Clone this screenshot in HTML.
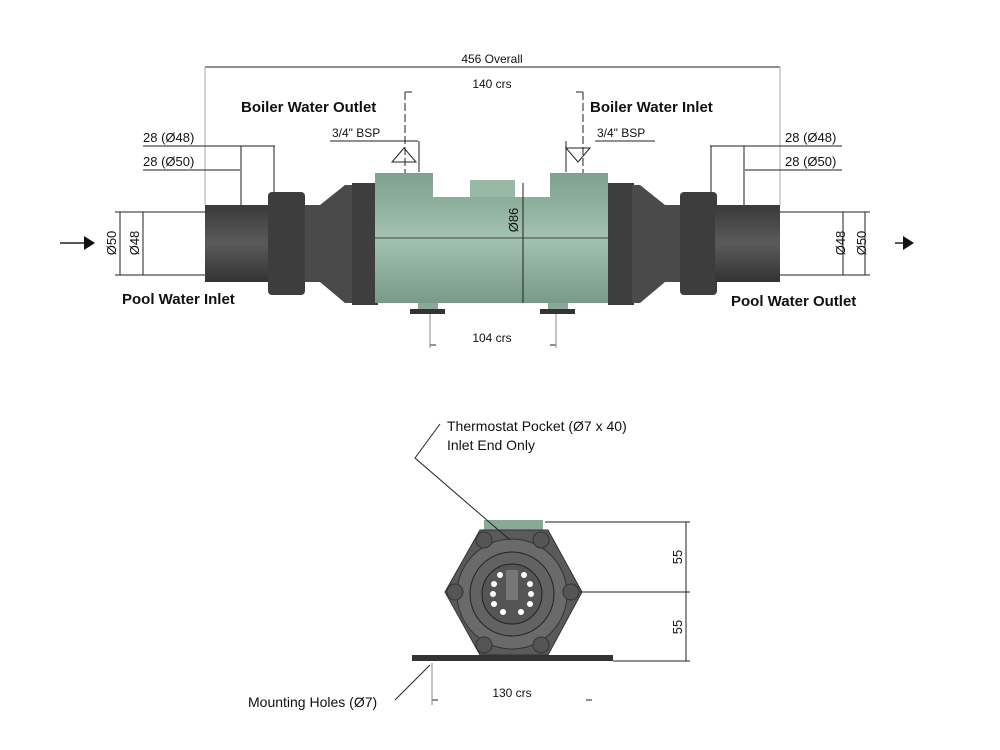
<!DOCTYPE html>
<html><head><meta charset="utf-8"><style>
html,body{margin:0;padding:0;background:#fff;}
svg{display:block;}
text{font-family:"Liberation Sans",sans-serif;fill:#111;}
.b{font-weight:bold;font-size:15px;}
.s{font-size:12px;}
.d{font-size:13px;}
</style></head><body>
<svg width="1000" height="750" viewBox="0 0 1000 750" xmlns="http://www.w3.org/2000/svg">
<defs>
<linearGradient id="g" x1="0" y1="0" x2="0" y2="1"><stop offset="0" stop-color="#7fa08e"/><stop offset="0.5" stop-color="#a3c2b0"/><stop offset="1" stop-color="#7a9a88"/></linearGradient>
<linearGradient id="k" x1="0" y1="0" x2="0" y2="1"><stop offset="0" stop-color="#3a3a3a"/><stop offset="0.5" stop-color="#5a5a5a"/><stop offset="1" stop-color="#333"/></linearGradient>
</defs>
<g stroke="#222" stroke-width="1" fill="none">
<!-- overall -->
<line x1="205" y1="67" x2="780" y2="67"/>
<line x1="205" y1="67" x2="205" y2="205" stroke="#aaa"/>
<line x1="780" y1="67" x2="780" y2="205" stroke="#aaa"/>
<!-- 140 crs -->
<line x1="405" y1="92" x2="583" y2="92" stroke="#fff"/>
<line x1="405" y1="92" x2="412" y2="92"/><line x1="576" y1="92" x2="583" y2="92"/>
<line x1="405" y1="92" x2="405" y2="300" stroke-dasharray="8,3"/>
<line x1="583" y1="92" x2="583" y2="300" stroke-dasharray="8,3"/>
<!-- BSP -->
<line x1="330" y1="141" x2="418" y2="141"/><line x1="419" y1="141" x2="419" y2="172"/>
<path d="M404,148 L392,162 L416,162 Z"/>
<line x1="595" y1="141" x2="655" y2="141"/><line x1="566" y1="141" x2="566" y2="172"/>
<path d="M566,148 L590,148 L578,162 Z"/>
<!-- left 28s -->
<line x1="143" y1="146" x2="275" y2="146"/><line x1="241" y1="146" x2="241" y2="205"/><line x1="274" y1="146" x2="274" y2="195"/>
<line x1="143" y1="170" x2="240" y2="170"/>
<line x1="710" y1="146" x2="842" y2="146"/><line x1="744" y1="146" x2="744" y2="205"/><line x1="711" y1="146" x2="711" y2="195"/>
<line x1="745" y1="170" x2="842" y2="170"/>
<!-- diameters left -->
<line x1="115" y1="212" x2="205" y2="212"/><line x1="115" y1="275" x2="205" y2="275"/>
<line x1="120" y1="212" x2="120" y2="275"/><line x1="143" y1="212" x2="143" y2="275"/>
<line x1="780" y1="212" x2="870" y2="212"/><line x1="780" y1="275" x2="870" y2="275"/>
<line x1="865" y1="212" x2="865" y2="275"/><line x1="843" y1="212" x2="843" y2="275"/>
<!-- arrows -->
<line x1="60" y1="243" x2="86" y2="243" stroke-width="1.5"/>
<line x1="895" y1="243" x2="905" y2="243" stroke-width="1.5"/>
<!-- 104 crs -->
<line x1="430" y1="345" x2="436" y2="345"/><line x1="550" y1="345" x2="556" y2="345"/>
<line x1="430" y1="312" x2="430" y2="348" stroke="#888"/><line x1="556" y1="312" x2="556" y2="348" stroke="#888"/>
</g>
<path d="M84,236 L95,243 L84,250 Z" fill="#111"/>
<path d="M903,236 L914,243 L903,250 Z" fill="#111"/>
<!-- top view body -->
<rect x="205" y="205" width="65" height="77" fill="url(#k)"/>
<rect x="268" y="192" width="37" height="103" rx="4" fill="#3d3d3d"/>
<path d="M305,205 L320,205 L345,185 L355,185 L355,303 L345,303 L320,282 L305,282 Z" fill="#4a4a4a"/>
<rect x="352" y="183" width="26" height="122" fill="#3e3e3e"/>
<rect x="375" y="173" width="233" height="130" fill="url(#g)"/>
<rect x="433" y="173" width="117" height="24" fill="#fff"/>
<rect x="470" y="180" width="45" height="17" fill="#9ab8a6"/>
<rect x="418" y="303" width="20" height="10" fill="#8aa896"/><rect x="410" y="309" width="35" height="5" fill="#333"/>
<rect x="548" y="303" width="20" height="10" fill="#8aa896"/><rect x="540" y="309" width="35" height="5" fill="#333"/>
<line x1="375" y1="238" x2="608" y2="238" stroke="#444" stroke-width="1"/>
<rect x="608" y="183" width="26" height="122" fill="#3e3e3e"/>
<path d="M680,205 L665,205 L640,185 L632,185 L632,303 L640,303 L665,282 L680,282 Z" fill="#4a4a4a"/>
<rect x="680" y="192" width="37" height="103" rx="4" fill="#3d3d3d"/>
<rect x="715" y="205" width="65" height="77" fill="url(#k)"/>
<line x1="523" y1="183" x2="523" y2="303" stroke="#222"/>
<!-- top labels -->
<text x="492" y="63" class="s" text-anchor="middle">456 Overall</text>
<text x="492" y="88" class="s" text-anchor="middle">140 crs</text>
<text x="241" y="112" class="b">Boiler Water Outlet</text>
<text x="590" y="112" class="b">Boiler Water Inlet</text>
<text x="332" y="137" class="s">3/4" BSP</text>
<text x="597" y="137" class="s">3/4" BSP</text>
<text x="143" y="142" class="d">28 (Ø48)</text>
<text x="143" y="166" class="d">28 (Ø50)</text>
<text x="785" y="142" class="d">28 (Ø48)</text>
<text x="785" y="166" class="d">28 (Ø50)</text>
<text transform="translate(116,243) rotate(-90)" class="d" text-anchor="middle">Ø50</text>
<text transform="translate(139,243) rotate(-90)" class="d" text-anchor="middle">Ø48</text>
<text transform="translate(845,243) rotate(-90)" class="d" text-anchor="middle">Ø48</text>
<text transform="translate(866,243) rotate(-90)" class="d" text-anchor="middle">Ø50</text>
<text transform="translate(518,220) rotate(-90)" class="d" text-anchor="middle">Ø86</text>
<text x="122" y="304" class="b">Pool Water Inlet</text>
<text x="731" y="306" class="b">Pool Water Outlet</text>
<text x="492" y="342" class="s" text-anchor="middle">104 crs</text>
<!-- end view -->
<rect x="484" y="520" width="59" height="20" fill="#8aa896"/>
<path d="M480,530 L548,530 L582,592 L548,655 L480,655 L445,592 Z" fill="#5a5a5a" stroke="#333"/>
<circle cx="512" cy="594" r="55" fill="#6a6a6a" stroke="#333"/>
<circle cx="512" cy="594" r="42" fill="#626262" stroke="#222"/>
<circle cx="512" cy="594" r="30" fill="#555" stroke="#222"/>
<g fill="#fff"><circle cx="500" cy="575" r="3"/><circle cx="524" cy="575" r="3"/><circle cx="494" cy="584" r="3"/><circle cx="530" cy="584" r="3"/><circle cx="493" cy="594" r="3"/><circle cx="531" cy="594" r="3"/><circle cx="494" cy="604" r="3"/><circle cx="530" cy="604" r="3"/><circle cx="503" cy="612" r="3"/><circle cx="521" cy="612" r="3"/><circle cx="512" cy="594" r="3"/></g>
<rect x="506" y="570" width="12" height="30" fill="#777"/>
<g fill="#555" stroke="#333"><circle cx="484" cy="540" r="8"/><circle cx="541" cy="540" r="8"/><circle cx="455" cy="592" r="8"/><circle cx="571" cy="592" r="8"/><circle cx="484" cy="645" r="8"/><circle cx="541" cy="645" r="8"/></g>
<rect x="412" y="655" width="201" height="6" fill="#333"/>
<g stroke="#222" fill="none">
<line x1="545" y1="522" x2="690" y2="522"/><line x1="580" y1="592" x2="690" y2="592"/><line x1="613" y1="661" x2="690" y2="661"/>
<line x1="686" y1="522" x2="686" y2="661"/>
<line x1="432" y1="700" x2="438" y2="700"/><line x1="586" y1="700" x2="592" y2="700"/>
<line x1="432" y1="663" x2="432" y2="705" stroke="#888"/>
<path d="M440,424 L415,458 L510,540"/>
<line x1="395" y1="700" x2="430" y2="665"/>
</g>
<text transform="translate(682,557) rotate(-90)" class="d" text-anchor="middle">55</text>
<text transform="translate(682,627) rotate(-90)" class="d" text-anchor="middle">55</text>
<text x="512" y="697" class="s" text-anchor="middle">130 crs</text>
<text x="447" y="431" style="font-size:14px">Thermostat Pocket (Ø7 x 40)</text>
<text x="447" y="450" style="font-size:14px">Inlet End Only</text>
<text x="248" y="707" style="font-size:14px">Mounting Holes (Ø7)</text>
</svg>
</body></html>
